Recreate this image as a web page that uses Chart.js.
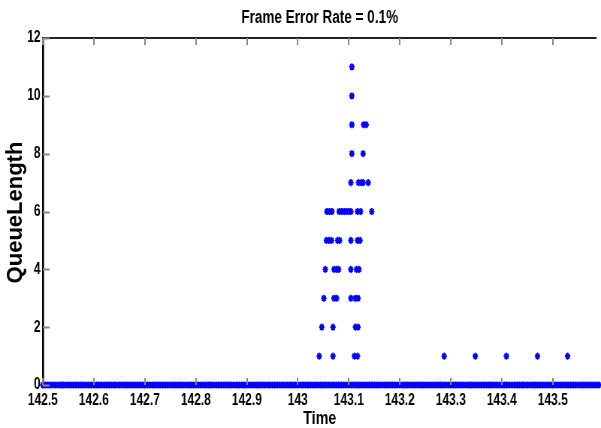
<!DOCTYPE html>
<html>
<head>
<meta charset="utf-8">
<script src="https://cdn.jsdelivr.net/npm/chart.js@4.4.1/dist/chart.umd.min.js"></script>
<style>
  html, body { margin: 0; padding: 0; background: #fff; overflow: hidden; }
</style>
</head>
<body>
<!-- the figure is drawn 800 wide and squeezed to 601, like the original export -->
<canvas id="grafico" width="800" height="428" style="width:601px;height:428px"></canvas>
<script>
const aperto = 601 / 800;

// sample times where the queue was empty
const idleTimes = [
  142.500,142.505,142.510,142.515,142.520,142.525,142.530,142.535,142.540,142.545,142.550,142.555,142.560,142.565,142.570,142.575,142.580,142.585,142.590,142.595,
  142.600,142.605,142.610,142.615,142.620,142.625,142.630,142.635,142.640,142.645,142.650,142.655,142.660,142.665,142.670,142.675,142.680,142.685,142.690,142.695,
  142.700,142.705,142.710,142.715,142.720,142.725,142.730,142.735,142.740,142.745,142.750,142.755,142.760,142.765,142.770,142.775,142.780,142.785,142.790,142.795,
  142.800,142.805,142.810,142.815,142.820,142.825,142.830,142.835,142.840,142.845,142.850,142.855,142.860,142.865,142.870,142.875,142.880,142.885,142.890,142.895,
  142.900,142.905,142.910,142.915,142.920,142.925,142.930,142.935,142.940,142.945,142.950,142.955,142.960,142.965,142.970,142.975,142.980,142.985,142.990,142.995,
  143.000,143.005,143.010,143.015,143.020,143.025,143.030,143.035,143.040,143.045,143.050,143.055,143.060,143.065,143.070,143.075,143.080,143.085,143.090,143.095,
  143.100,143.105,143.110,143.115,143.120,143.125,143.130,143.135,143.140,143.145,143.150,143.155,143.160,143.165,143.170,143.175,143.180,143.185,143.190,143.195,
  143.200,143.205,143.210,143.215,143.220,143.225,143.230,143.235,143.240,143.245,143.250,143.255,143.260,143.265,143.270,143.275,143.280,143.285,143.290,143.295,
  143.300,143.305,143.310,143.315,143.320,143.325,143.330,143.335,143.340,143.345,143.350,143.355,143.360,143.365,143.370,143.375,143.380,143.385,143.390,143.395,
  143.400,143.405,143.410,143.415,143.420,143.425,143.430,143.435,143.440,143.445,143.450,143.455,143.460,143.465,143.470,143.475,143.480,143.485,143.490,143.495,
  143.500,143.505,143.510,143.515,143.520,143.525,143.530,143.535,143.540,143.545,143.550,143.555,143.560,143.565,143.570,143.575,143.580,143.585,143.590
];

// samples where the queue was not empty
const burstTimes = [
  143.106,
  143.106,
  143.106, 143.129, 143.134,
  143.106, 143.128,
  143.104, 143.119, 143.124, 143.128, 143.138,
  143.057, 143.062, 143.067, 143.081, 143.086, 143.091, 143.095, 143.100, 143.104, 143.117, 143.123, 143.145,
  143.056, 143.061, 143.066, 143.078, 143.082, 143.104, 143.117, 143.122,
  143.054, 143.071, 143.076, 143.080, 143.104, 143.115, 143.120,
  143.051, 143.071, 143.076, 143.104, 143.113, 143.118,
  143.047, 143.069, 143.113, 143.118,
  143.042, 143.069, 143.111, 143.117, 143.287, 143.348, 143.409, 143.470, 143.529
];
const burstQueue = [
  11,
  10,
  9, 9, 9,
  8, 8,
  7, 7, 7, 7, 7,
  6, 6, 6, 6, 6, 6, 6, 6, 6, 6, 6, 6,
  5, 5, 5, 5, 5, 5, 5, 5,
  4, 4, 4, 4, 4, 4, 4,
  3, 3, 3, 3, 3, 3,
  2, 2, 2, 2,
  1, 1, 1, 1, 1, 1, 1, 1, 1
];

const xTicks = [142.5, 142.6, 142.7, 142.8, 142.9, 143.0, 143.1, 143.2, 143.3, 143.4, 143.5];
const yTicks = [0, 2, 4, 6, 8, 10, 12];
const tituloY = 'QueueLength';

const pontos = idleTimes.map(t => ({ x: t, y: 0 }))
  .concat(burstTimes.map((t, i) => ({ x: t, y: burstQueue[i] })));

const fonte = "'Liberation Sans', Arial, Helvetica, sans-serif";

// MATLAB style: top border + ticks pointing inside the axes
const marcasInternas = {
  id: 'marcasInternas',
  afterDraw(chart) {
    const c = chart.ctx;
    const a = chart.chartArea;
    const sx = chart.scales.x;
    const sy = chart.scales.y;
    c.save();
    c.strokeStyle = '#222';
    c.lineWidth = 2;
    c.beginPath();
    c.moveTo(a.left, a.top);
    c.lineTo(a.right, a.top);
    c.stroke();
    c.strokeStyle = '#888';
    c.lineWidth = 2;
    c.beginPath();
    xTicks.forEach(v => {
      const px = Math.round(sx.getPixelForValue(v));
      c.moveTo(px, a.top);
      c.lineTo(px, a.top + 7);
      c.moveTo(px, a.bottom);
      c.lineTo(px, a.bottom - 7);
    });
    yTicks.forEach(v => {
      const py = Math.round(sy.getPixelForValue(v)) + 0.5;
      c.moveTo(a.left, py);
      c.lineTo(a.left + 9, py);
    });
    c.stroke();

    // y title, not squeezed (undo the canvas squeeze for this text)
    const centro = (sy.getPixelForValue(0) + sy.getPixelForValue(12)) / 2 + 1;
    c.translate(21.5 / aperto, centro);
    c.scale(1 / aperto, 1);
    c.rotate(-Math.PI / 2);
    c.fillStyle = '#000';
    c.font = "bold 22px " + fonte;
    c.textAlign = 'center';
    c.textBaseline = 'alphabetic';
    c.fillText(tituloY, 0, 0);
    c.restore();
  }
};

const ctx = document.getElementById('grafico').getContext('2d');
const grafico = new Chart(ctx, {
  type: 'scatter',
  data: {
    datasets: [{
      label: 'QueueLength',
      data: pontos,
      pointStyle: 'star',
      pointRadius: 3.6,
      pointBorderWidth: 1.8,
      borderColor: '#0000ff',
      backgroundColor: '#0000ff',
      clip: false
    }]
  },
  options: {
    responsive: false,
    animation: false,
    layout: { padding: 0 },
    plugins: {
      legend: { display: false },
      tooltip: { enabled: false },
      title: {
        display: true,
        fullSize: false,
        text: 'Frame Error Rate = 0.1%',
        color: '#000',
        font: { family: fonte, size: 18, weight: 'bold', lineHeight: 1.2 },
        padding: { top: 7, bottom: 9.4 }
      }
    },
    scales: {
      x: {
        type: 'linear',
        min: 142.5,
        max: 143.586,
        afterBuildTicks: s => { s.ticks = xTicks.map(v => ({ value: v })); },
        afterFit: s => { s.height = 43; },
        grid: { display: false, drawTicks: false },
        border: { display: true, color: '#000', width: 2 },
        ticks: {
          color: '#000',
          padding: 6,
          maxRotation: 0,
          autoSkip: false,
          font: { family: fonte, size: 16, weight: 'bold' },
          callback: v => String(Number(v.toFixed(1)))
        },
        title: {
          display: true,
          text: 'Time',
          color: '#000',
          font: { family: fonte, size: 19, weight: 'bold', lineHeight: 1 },
          padding: { top: 0, bottom: 0 }
        }
      },
      y: {
        min: 0,
        max: 12,
        afterBuildTicks: s => { s.ticks = yTicks.map(v => ({ value: v })); },
        afterFit: s => { s.width = 57; },
        grid: { display: false, drawTicks: false },
        border: { display: true, color: '#000', width: 2.6 },
        ticks: {
          color: '#000',
          padding: 3,
          autoSkip: false,
          font: { family: fonte, size: 16, weight: 'bold' }
        },
        title: { display: false }
      }
    }
  },
  plugins: [marcasInternas]
});
</script>
</body>
</html>
